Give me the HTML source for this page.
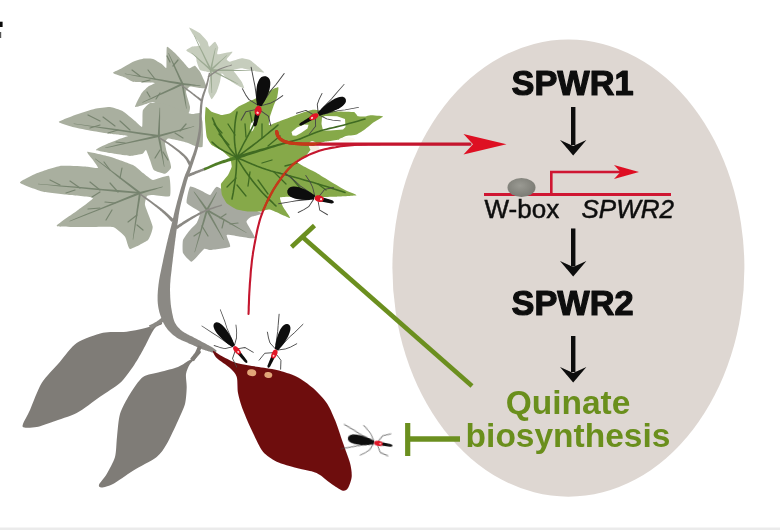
<!DOCTYPE html>
<html><head><meta charset="utf-8">
<style>
html,body{margin:0;padding:0;background:#fff;}
body{width:780px;height:530px;overflow:hidden;position:relative;font-family:"Liberation Sans",sans-serif;}
svg{position:absolute;left:0;top:0;display:block;}
text{font-family:"Liberation Sans",sans-serif;}
</style></head><body>
<svg width="780" height="530" viewBox="0 0 780 530">
<defs>
<filter id="soft" x="-5%" y="-5%" width="110%" height="110%"><feGaussianBlur stdDeviation="0.45"/></filter>
<filter id="soft2" x="-5%" y="-5%" width="110%" height="110%"><feGaussianBlur stdDeviation="0.35"/></filter>
<radialGradient id="ovalg" cx="0.45" cy="0.4" r="0.7"><stop offset="0" stop-color="#9a9a93"/><stop offset="1" stop-color="#75756e"/></radialGradient>
<g id="bug">
  <!-- legs -->
  <g fill="none" stroke="#3a3a3a" stroke-width="0.9" stroke-linecap="round">
    <path d="M15,-2 L10,-9 L1,-14"/><path d="M15,2 L10,9 L1,15"/>
    <path d="M18,-2 L19,-10 L14,-19"/><path d="M18,2 L19,10 L14,19"/>
    <path d="M21,-2 L27,-8 L33,-13"/><path d="M21,2 L27,8 L33,13"/>
  </g>
  <path d="M-15,0 C-14,-6 4,-7 13,-2.2 L15,0 L13,2.2 C4,7 -14,6 -15,0 Z" fill="#0a0a0a"/>
  <path d="M19,-2 L31,-0.8 L32,0.6 L19,2.4 Z" fill="#0a0a0a"/>
  <circle cx="17.5" cy="0" r="3.2" fill="#e0182a"/>
  <circle cx="17.8" cy="0" r="1" fill="#ffd8d8"/>
</g>
</defs>
<rect x="0" y="0" width="780" height="530" fill="#ffffff"/>
<rect x="0" y="527.5" width="780" height="2.5" fill="#ebebeb"/>
<rect x="0" y="21.7" width="2.6" height="5.3" fill="#0a0a0a"/>
<rect x="0" y="32" width="1.2" height="6" fill="#555"/>

<!-- nucleus ellipse -->
<ellipse cx="568.4" cy="268.1" rx="176" ry="228.6" fill="#ded7d2"/>

<g id="plant" filter="url(#soft)">
<path d="M189.2,27.5 C189.7,27.4 198.6,32.2 200.0,33.3 C201.4,34.4 206.8,40.7 207.5,41.7 C208.2,42.7 208.6,46.7 209.2,46.7 C209.8,46.7 214.3,41.6 215.0,41.7 C215.7,41.8 218.1,46.6 218.3,47.5 C218.5,48.4 216.4,53.9 217.5,54.2 C218.6,54.5 231.8,51.3 232.5,51.7 C233.2,52.1 226.9,58.5 226.7,59.2 C226.5,60.0 228.9,61.8 230.0,61.7 C231.1,61.6 240.2,58.4 241.7,58.3 C243.2,58.2 248.8,59.4 250.0,60.0 C251.2,60.6 257.2,65.8 258.3,66.7 C259.4,67.6 264.6,72.2 264.2,72.5 C263.8,72.8 255.0,71.1 253.3,70.8 C251.6,70.5 243.2,68.4 241.7,68.3 C240.2,68.2 233.7,69.5 233.3,70.0 C232.9,70.5 236.1,74.1 236.7,75.0 C237.3,75.9 241.1,80.7 241.7,81.7 C242.3,82.7 244.6,88.1 244.2,88.3 C243.8,88.5 238.0,85.8 236.7,85.0 C235.4,84.2 227.8,79.2 226.7,78.3 C225.6,77.4 222.2,73.0 221.7,73.3 C221.2,73.6 220.4,80.3 220.0,81.7 C219.6,83.1 217.3,90.4 216.7,91.7 C216.1,93.0 212.3,99.2 211.7,99.2 C211.1,99.2 208.5,93.0 208.3,91.7 C208.1,90.4 209.0,83.1 209.2,81.7 C209.4,80.3 211.0,74.0 210.8,73.3 C210.6,72.5 207.5,71.9 206.7,71.7 C205.9,71.5 200.8,70.8 200.0,70.0 C199.2,69.2 197.0,62.7 196.7,61.7 C196.4,60.7 196.6,57.5 195.8,56.7 C195.0,55.9 186.6,51.2 186.3,50.5 C186.0,49.8 190.7,47.1 191.7,46.7 C192.7,46.3 199.5,46.2 200.0,45.8 C200.5,45.4 198.8,42.5 198.3,41.7 C197.8,40.9 194.0,36.1 193.3,35.0 C192.6,33.9 188.7,27.6 189.2,27.5 Z" fill="#c6cdbd" />
<path d="M113.0,73.0 C112.8,72.3 120.2,69.1 121.7,68.3 C123.2,67.5 131.4,62.4 133.0,61.7 C134.6,61.0 141.5,58.9 143.0,58.7 C144.5,58.5 151.6,58.6 153.0,59.0 C154.4,59.4 160.7,63.3 161.7,64.0 C162.7,64.7 165.9,68.4 166.3,68.0 C166.7,67.6 166.4,59.9 166.5,58.3 C166.6,56.7 166.4,47.1 167.0,46.7 C167.6,46.3 173.8,51.9 175.0,53.0 C176.2,54.1 181.9,60.6 183.0,61.7 C184.1,62.8 188.1,68.0 189.0,68.3 C189.9,68.6 194.2,65.5 195.0,65.8 C195.8,66.1 199.3,70.6 200.0,71.7 C200.7,72.8 203.5,78.8 204.0,80.0 C204.5,81.2 207.0,87.4 206.7,88.0 C206.4,88.6 201.3,88.1 200.0,88.0 C198.7,87.9 191.1,86.2 190.0,86.5 C188.9,86.8 186.0,90.5 186.0,92.0 C186.0,93.5 189.8,105.2 190.0,106.7 C190.2,108.2 189.5,111.8 189.0,112.5 C188.5,113.2 184.3,116.0 183.0,116.0 C181.7,116.0 173.7,113.8 172.0,113.0 C170.3,112.2 161.4,106.8 160.0,106.0 C158.6,105.2 154.3,102.1 153.0,102.0 C151.7,101.9 144.3,104.6 143.0,105.0 C141.7,105.4 135.1,107.6 135.0,106.7 C134.9,105.8 140.7,94.5 141.7,93.0 C142.7,91.5 147.0,87.5 148.0,86.7 C149.0,86.0 155.1,83.3 155.0,83.0 C154.9,82.7 148.3,82.6 146.7,82.5 C145.0,82.4 134.6,82.1 133.0,81.7 C131.4,81.3 126.5,78.2 125.0,77.5 C123.5,76.8 113.2,73.7 113.0,73.0 Z" fill="#a9af9f" />
<path d="M58.8,122.0 C59.0,121.1 72.3,116.0 75.0,115.0 C77.7,114.0 92.4,109.4 95.0,108.8 C97.6,108.2 107.9,106.8 110.0,107.0 C112.1,107.2 120.6,110.0 122.5,111.0 C124.4,112.0 133.5,119.8 135.0,121.0 C136.5,122.2 141.4,127.2 142.0,127.0 C142.6,126.8 142.4,119.3 142.5,118.0 C142.6,116.7 142.4,111.1 143.0,110.0 C143.6,108.9 148.3,103.5 150.0,103.0 C151.7,102.5 162.8,103.5 165.0,104.0 C167.2,104.5 178.0,109.2 180.0,110.0 C182.0,110.8 190.2,113.8 191.7,114.0 C193.2,114.2 199.2,112.4 200.0,113.0 C200.8,113.6 202.3,120.0 202.5,121.7 C202.7,123.4 203.0,133.1 203.0,135.0 C203.0,136.9 203.0,145.8 202.5,146.7 C202.0,147.6 197.8,147.0 196.7,146.7 C195.6,146.4 189.3,143.4 188.0,143.0 C186.7,142.6 181.5,141.1 180.0,140.8 C178.5,140.5 169.1,138.3 168.0,138.5 C166.9,138.7 165.1,142.0 165.0,143.0 C164.9,144.0 166.3,150.3 166.7,151.7 C167.1,153.1 169.7,160.5 170.0,161.7 C170.3,162.9 171.4,167.1 171.0,168.0 C170.6,168.9 166.3,173.7 165.0,173.8 C163.7,174.0 154.9,171.0 153.8,170.0 C152.7,169.0 150.6,161.5 150.0,160.0 C149.4,158.5 146.6,150.5 146.0,150.0 C145.4,149.5 143.7,153.4 142.5,153.8 C141.3,154.2 132.1,156.0 130.0,156.0 C127.9,156.0 117.5,154.2 115.0,153.8 C112.5,153.4 96.6,150.8 96.0,150.0 C95.4,149.2 105.7,144.6 107.5,143.8 C109.3,143.0 118.5,139.4 120.0,138.8 C121.5,138.2 128.0,136.3 128.0,136.0 C128.0,135.7 121.3,135.2 120.0,135.0 C118.7,134.8 112.1,134.1 110.0,133.8 C107.9,133.5 95.3,131.5 92.5,131.0 C89.7,130.5 75.0,127.7 72.5,127.0 C70.0,126.3 58.6,122.9 58.8,122.0 Z" fill="#a9af9f" />
<path d="M20.0,182.7 C19.5,181.3 33.7,174.6 36.7,173.3 C39.7,172.0 56.2,166.5 60.0,166.0 C63.8,165.5 83.9,166.5 86.7,166.7 C89.5,166.8 97.5,168.5 98.0,168.0 C98.5,167.5 93.8,161.2 93.0,160.0 C92.2,158.8 86.0,151.9 87.3,151.7 C88.6,151.5 106.6,155.7 110.0,156.7 C113.4,157.7 130.5,163.8 133.0,165.0 C135.5,166.2 141.5,171.9 143.0,173.0 C144.5,174.1 151.1,179.8 153.0,180.0 C154.9,180.2 167.7,174.8 169.0,176.0 C170.3,177.2 171.2,194.6 170.0,196.0 C168.8,197.4 154.7,195.0 153.0,195.0 C151.3,195.0 147.6,195.2 147.0,196.0 C146.4,196.8 144.6,202.7 145.0,205.0 C145.4,207.3 152.5,224.1 152.7,226.7 C152.9,229.3 149.7,238.3 148.0,240.0 C146.3,241.7 131.7,249.2 130.0,249.0 C128.3,248.8 126.3,238.3 125.0,236.7 C123.7,235.0 115.9,227.7 113.0,227.0 C110.1,226.3 90.9,227.1 86.7,227.0 C82.5,226.9 57.5,227.2 56.7,226.0 C56.0,224.8 74.0,213.1 76.7,211.0 C79.4,208.9 93.5,199.2 93.0,198.0 C92.5,196.8 73.7,195.5 70.0,195.0 C66.3,194.5 47.0,192.6 43.3,191.7 C39.5,190.8 20.5,184.1 20.0,182.7 Z" fill="#a9af9f" />
<path d="M190.0,186.7 C191.0,185.7 198.5,189.4 200.0,190.0 C201.5,190.6 208.7,195.2 210.0,195.0 C211.3,194.8 215.2,186.8 216.7,186.7 C218.2,186.6 227.8,192.6 230.0,194.0 C232.2,195.4 243.6,204.5 246.0,206.0 C248.4,207.5 261.6,212.7 262.0,213.5 C262.4,214.3 252.2,216.4 251.0,217.0 C249.8,217.6 246.2,220.4 246.5,222.0 C246.8,223.6 255.5,236.9 255.0,238.0 C254.5,239.1 242.1,236.9 240.0,236.7 C237.9,236.5 227.4,234.2 226.7,235.0 C225.9,235.8 231.3,245.6 230.0,246.7 C228.7,247.8 211.9,249.8 210.0,250.0 C208.1,250.2 205.4,248.1 204.0,249.0 C202.6,249.9 193.3,261.4 191.7,261.7 C190.1,262.0 183.7,254.6 183.0,253.0 C182.3,251.4 182.5,241.7 183.0,240.0 C183.5,238.3 189.0,231.3 190.0,230.0 C191.0,228.7 195.9,224.3 196.7,223.0 C197.4,221.7 200.8,213.5 200.0,212.0 C199.2,210.5 187.4,204.9 186.7,203.0 C185.9,201.1 189.0,187.7 190.0,186.7 Z" fill="#a6a9a0" />
<path d="M211.6,69.6 L210.1,66.6 L207.9,62.2 L205.4,57.2 L203.1,52.6 L200.7,47.9 L198.2,43.0 L196.0,38.6 L194.5,35.6 L194.1,35.8 L195.5,38.9 L197.5,43.4 L199.8,48.4 L202.0,53.1 L204.2,57.8 L206.5,62.8 L208.6,67.3 L210.0,70.4 Z" fill="#9caa92" />
<path d="M211.4,69.3 L209.6,67.8 L207.1,65.7 L204.3,63.2 L201.6,61.0 L198.9,58.7 L196.1,56.3 L193.5,54.2 L191.8,52.7 L191.5,53.0 L193.1,54.6 L195.5,56.9 L198.2,59.5 L200.8,61.9 L203.4,64.3 L206.1,66.8 L208.5,69.1 L210.2,70.7 Z" fill="#9caa92" />
<path d="M210.8,70.9 L214.7,70.9 L220.3,71.0 L226.5,71.0 L232.4,71.1 L238.4,71.1 L244.6,71.1 L250.2,71.1 L254.1,71.1 L254.1,70.7 L250.2,70.5 L244.6,70.3 L238.4,70.0 L232.5,69.8 L226.5,69.6 L220.3,69.4 L214.7,69.2 L210.8,69.1 Z" fill="#9caa92" />
<path d="M210.4,70.8 L212.9,72.0 L216.5,73.8 L220.5,75.7 L224.2,77.6 L228.0,79.4 L232.1,81.4 L235.7,83.1 L238.2,84.3 L238.4,83.9 L235.9,82.5 L232.4,80.6 L228.5,78.5 L224.8,76.5 L221.1,74.5 L217.2,72.4 L213.6,70.5 L211.2,69.2 Z" fill="#9caa92" />
<path d="M209.9,70.0 L210.1,72.1 L210.3,75.0 L210.5,78.3 L210.7,81.5 L211.0,84.6 L211.2,87.9 L211.5,90.8 L211.6,92.9 L212.1,92.9 L212.1,90.8 L212.0,87.9 L212.0,84.5 L211.9,81.4 L211.9,78.3 L211.8,75.0 L211.7,72.0 L211.7,70.0 Z" fill="#9caa92" />
<path d="M211.4,70.7 L212.8,69.3 L214.8,67.4 L217.1,65.2 L219.2,63.2 L221.3,61.1 L223.6,59.0 L225.6,57.0 L227.0,55.6 L226.7,55.3 L225.2,56.6 L223.0,58.4 L220.6,60.4 L218.4,62.3 L216.1,64.2 L213.8,66.3 L211.7,68.1 L210.2,69.3 Z" fill="#9caa92" />
<path d="M211.7,70.2 L212.0,68.2 L212.6,65.3 L213.1,62.1 L213.7,59.1 L214.2,56.1 L214.8,52.9 L215.3,50.0 L215.6,48.0 L215.2,48.0 L214.7,49.9 L214.0,52.7 L213.2,55.9 L212.5,58.9 L211.8,61.9 L211.0,65.0 L210.4,67.9 L209.9,69.8 Z" fill="#9caa92" />
<path d="M182.7,83.0 L177.5,82.1 L170.0,80.9 L161.7,79.5 L153.8,78.2 L145.9,77.0 L137.5,75.6 L130.1,74.4 L124.9,73.6 L124.8,74.1 L130.0,75.1 L137.4,76.6 L145.7,78.1 L153.6,79.6 L161.4,81.1 L169.7,82.7 L177.2,84.0 L182.3,85.0 Z" fill="#77846f" />
<path d="M183.4,83.6 L182.1,80.8 L180.2,76.9 L178.1,72.5 L176.1,68.3 L174.1,64.1 L171.9,59.7 L170.0,55.8 L168.7,53.1 L168.2,53.3 L169.4,56.1 L171.1,60.1 L173.0,64.6 L174.8,68.9 L176.7,73.1 L178.6,77.6 L180.4,81.6 L181.6,84.4 Z" fill="#77846f" />
<path d="M182.1,83.1 L178.5,84.8 L173.4,87.2 L167.6,90.0 L162.2,92.6 L156.8,95.2 L151.0,98.0 L145.9,100.5 L142.3,102.2 L142.6,102.7 L146.2,101.1 L151.4,98.9 L157.3,96.3 L162.8,93.9 L168.3,91.4 L174.1,88.9 L179.3,86.5 L182.9,84.9 Z" fill="#77846f" />
<path d="M182.4,85.0 L184.0,85.1 L186.4,85.3 L189.0,85.4 L191.5,85.6 L193.9,85.7 L196.5,85.8 L198.9,85.9 L200.5,86.0 L200.6,85.5 L199.0,85.3 L196.6,84.9 L194.0,84.5 L191.6,84.2 L189.1,83.8 L186.5,83.5 L184.2,83.2 L182.6,83.0 Z" fill="#77846f" />
<path d="M181.5,84.2 L181.9,86.4 L182.5,89.5 L183.1,93.1 L183.8,96.4 L184.4,99.8 L185.1,103.3 L185.8,106.5 L186.2,108.7 L186.7,108.6 L186.4,106.4 L186.1,103.2 L185.6,99.6 L185.2,96.2 L184.7,92.8 L184.2,89.2 L183.8,86.1 L183.5,83.8 Z" fill="#77846f" />
<path d="M158.9,135.0 L151.3,133.9 L140.3,132.4 L128.0,130.7 L116.3,129.1 L104.6,127.6 L92.3,125.9 L81.3,124.4 L73.7,123.4 L73.6,123.9 L81.2,125.1 L92.2,126.8 L104.5,128.7 L116.1,130.5 L127.7,132.3 L140.0,134.2 L151.0,135.8 L158.7,137.0 Z" fill="#77846f" />
<path d="M158.6,135.0 L153.8,136.1 L146.9,137.7 L139.2,139.5 L131.9,141.2 L124.6,143.0 L116.9,144.8 L110.0,146.5 L105.2,147.6 L105.4,148.1 L110.2,147.2 L117.1,145.7 L124.9,144.1 L132.2,142.6 L139.5,141.1 L147.3,139.5 L154.2,138.0 L159.0,137.0 Z" fill="#77846f" />
<path d="M157.8,136.2 L158.3,138.9 L159.1,142.9 L160.0,147.3 L160.8,151.5 L161.7,155.7 L162.6,160.1 L163.4,164.1 L164.0,166.8 L164.5,166.8 L164.1,164.0 L163.5,160.0 L162.9,155.5 L162.2,151.3 L161.6,147.0 L160.9,142.6 L160.2,138.6 L159.8,135.8 Z" fill="#77846f" />
<path d="M159.1,137.0 L162.2,136.1 L166.8,134.7 L171.9,133.3 L176.7,131.8 L181.5,130.4 L186.6,128.9 L191.1,127.5 L194.2,126.6 L194.1,126.1 L190.9,126.9 L186.3,128.0 L181.2,129.3 L176.3,130.5 L171.4,131.7 L166.3,133.0 L161.7,134.2 L158.5,135.0 Z" fill="#77846f" />
<path d="M159.8,136.0 L159.9,133.5 L159.9,129.9 L160.0,125.8 L160.0,121.9 L160.1,118.1 L160.1,114.0 L160.1,110.4 L160.1,107.8 L159.6,107.8 L159.4,110.4 L159.2,114.0 L158.9,118.0 L158.6,121.9 L158.4,125.7 L158.1,129.8 L157.9,133.4 L157.8,136.0 Z" fill="#77846f" />
<path d="M140.1,192.0 L130.9,191.2 L117.7,190.1 L103.0,188.9 L89.0,187.8 L75.1,186.6 L60.3,185.5 L47.1,184.4 L37.9,183.7 L37.9,184.2 L47.1,185.1 L60.2,186.4 L75.0,187.8 L88.9,189.2 L102.8,190.5 L117.6,191.9 L130.7,193.1 L139.9,194.0 Z" fill="#77846f" />
<path d="M140.6,192.2 L136.6,189.2 L130.7,184.8 L124.2,179.9 L118.0,175.3 L111.8,170.7 L105.2,165.8 L99.4,161.5 L95.3,158.5 L95.0,158.9 L98.9,162.0 L104.7,166.6 L111.1,171.6 L117.1,176.4 L123.2,181.2 L129.6,186.2 L135.4,190.7 L139.4,193.8 Z" fill="#77846f" />
<path d="M139.6,192.1 L133.3,194.6 L124.3,198.3 L114.1,202.5 L104.5,206.4 L95.0,210.4 L84.8,214.6 L75.8,218.3 L69.5,220.9 L69.7,221.4 L76.1,219.0 L85.2,215.4 L95.4,211.5 L105.1,207.7 L114.7,204.0 L124.9,200.0 L134.0,196.4 L140.4,193.9 Z" fill="#77846f" />
<path d="M139.0,192.8 L138.4,197.0 L137.6,203.1 L136.6,209.8 L135.8,216.2 L134.9,222.6 L134.0,229.4 L133.2,235.4 L132.7,239.6 L133.2,239.7 L133.9,235.5 L135.0,229.5 L136.1,222.8 L137.2,216.4 L138.2,210.1 L139.3,203.3 L140.3,197.3 L141.0,193.2 Z" fill="#77846f" />
<path d="M140.3,194.0 L142.3,193.4 L145.2,192.5 L148.5,191.5 L151.6,190.6 L154.7,189.7 L158.0,188.6 L160.9,187.7 L162.9,187.1 L162.8,186.6 L160.7,187.1 L157.8,187.7 L154.4,188.5 L151.3,189.2 L148.1,190.0 L144.8,190.8 L141.8,191.5 L139.7,192.0 Z" fill="#77846f" />
<path d="M207.8,209.4 L206.6,207.8 L204.8,205.4 L202.9,202.8 L201.0,200.3 L199.1,197.9 L197.1,195.3 L195.3,193.0 L194.0,191.4 L193.6,191.7 L194.7,193.4 L196.3,195.8 L198.1,198.6 L199.8,201.2 L201.5,203.8 L203.4,206.5 L205.0,208.9 L206.2,210.6 Z" fill="#77846f" />
<path d="M206.5,210.9 L210.1,212.9 L215.2,215.8 L221.0,219.0 L226.4,222.1 L231.9,225.1 L237.7,228.3 L242.9,231.1 L246.5,233.1 L246.7,232.7 L243.2,230.5 L238.2,227.5 L232.5,224.0 L227.2,220.8 L221.8,217.6 L216.1,214.2 L211.0,211.2 L207.5,209.1 Z" fill="#77846f" />
<path d="M206.0,209.7 L205.0,213.5 L203.5,219.0 L201.8,225.1 L200.2,230.9 L198.6,236.7 L196.9,242.9 L195.5,248.3 L194.4,252.2 L194.9,252.3 L196.1,248.5 L197.8,243.1 L199.7,237.1 L201.5,231.3 L203.3,225.6 L205.2,219.5 L206.8,214.1 L208.0,210.3 Z" fill="#77846f" />
<path d="M207.9,210.5 L208.7,208.9 L209.9,206.6 L211.2,204.0 L212.5,201.5 L213.7,199.1 L215.0,196.5 L216.1,194.1 L216.9,192.5 L216.4,192.3 L215.5,193.8 L214.2,196.0 L212.6,198.5 L211.2,200.9 L209.8,203.2 L208.3,205.7 L207.0,208.0 L206.1,209.5 Z" fill="#77846f" />
<path d="M206.1,210.5 L207.7,213.2 L209.9,217.0 L212.4,221.3 L214.7,225.3 L217.1,229.3 L219.7,233.6 L221.9,237.4 L223.5,240.0 L223.9,239.8 L222.5,237.1 L220.5,233.1 L218.2,228.8 L216.0,224.6 L213.8,220.5 L211.4,216.1 L209.3,212.2 L207.9,209.5 Z" fill="#77846f" />
<path d="M100.0,121.0 L88.0,115.0" fill="none" stroke="#77846f" stroke-width="1.2" stroke-linecap="round" stroke-linejoin="round" />
<path d="M115.0,126.0 L103.0,117.0" fill="none" stroke="#77846f" stroke-width="1.2" stroke-linecap="round" stroke-linejoin="round" />
<path d="M130.0,130.0 L120.0,121.0" fill="none" stroke="#77846f" stroke-width="1.2" stroke-linecap="round" stroke-linejoin="round" />
<path d="M100.0,125.0 L90.0,128.0" fill="none" stroke="#77846f" stroke-width="1.2" stroke-linecap="round" stroke-linejoin="round" />
<path d="M118.0,130.0 L108.0,133.0" fill="none" stroke="#77846f" stroke-width="1.2" stroke-linecap="round" stroke-linejoin="round" />
<path d="M125.0,143.0 L116.0,142.0" fill="none" stroke="#77846f" stroke-width="1.2" stroke-linecap="round" stroke-linejoin="round" />
<path d="M160.0,150.0 L155.0,158.0" fill="none" stroke="#77846f" stroke-width="1.2" stroke-linecap="round" stroke-linejoin="round" />
<path d="M163.0,152.0 L168.0,160.0" fill="none" stroke="#77846f" stroke-width="1.2" stroke-linecap="round" stroke-linejoin="round" />
<path d="M180.0,131.0 L186.0,124.0" fill="none" stroke="#77846f" stroke-width="1.2" stroke-linecap="round" stroke-linejoin="round" />
<path d="M175.0,133.0 L183.0,138.0" fill="none" stroke="#77846f" stroke-width="1.2" stroke-linecap="round" stroke-linejoin="round" />
<path d="M140.0,76.0 L132.0,70.0" fill="none" stroke="#77846f" stroke-width="1.2" stroke-linecap="round" stroke-linejoin="round" />
<path d="M155.0,79.0 L148.0,70.0" fill="none" stroke="#77846f" stroke-width="1.2" stroke-linecap="round" stroke-linejoin="round" />
<path d="M150.0,80.0 L142.0,82.0" fill="none" stroke="#77846f" stroke-width="1.2" stroke-linecap="round" stroke-linejoin="round" />
<path d="M170.0,62.0 L167.0,56.0" fill="none" stroke="#77846f" stroke-width="1.2" stroke-linecap="round" stroke-linejoin="round" />
<path d="M173.0,66.0 L178.0,60.0" fill="none" stroke="#77846f" stroke-width="1.2" stroke-linecap="round" stroke-linejoin="round" />
<path d="M150.0,97.0 L147.0,92.0" fill="none" stroke="#77846f" stroke-width="1.2" stroke-linecap="round" stroke-linejoin="round" />
<path d="M160.0,93.0 L156.0,99.0" fill="none" stroke="#77846f" stroke-width="1.2" stroke-linecap="round" stroke-linejoin="round" />
<path d="M60.0,185.0 L50.0,180.0" fill="none" stroke="#77846f" stroke-width="1.2" stroke-linecap="round" stroke-linejoin="round" />
<path d="M80.0,188.0 L70.0,181.0" fill="none" stroke="#77846f" stroke-width="1.2" stroke-linecap="round" stroke-linejoin="round" />
<path d="M100.0,190.0 L90.0,182.0" fill="none" stroke="#77846f" stroke-width="1.2" stroke-linecap="round" stroke-linejoin="round" />
<path d="M118.0,192.0 L110.0,183.0" fill="none" stroke="#77846f" stroke-width="1.2" stroke-linecap="round" stroke-linejoin="round" />
<path d="M75.0,190.0 L66.0,193.0" fill="none" stroke="#77846f" stroke-width="1.2" stroke-linecap="round" stroke-linejoin="round" />
<path d="M100.0,192.0 L92.0,197.0" fill="none" stroke="#77846f" stroke-width="1.2" stroke-linecap="round" stroke-linejoin="round" />
<path d="M100.0,208.0 L88.0,209.0" fill="none" stroke="#77846f" stroke-width="1.2" stroke-linecap="round" stroke-linejoin="round" />
<path d="M115.0,203.0 L105.0,202.0" fill="none" stroke="#77846f" stroke-width="1.2" stroke-linecap="round" stroke-linejoin="round" />
<path d="M112.0,210.0 L106.0,220.0" fill="none" stroke="#77846f" stroke-width="1.2" stroke-linecap="round" stroke-linejoin="round" />
<path d="M137.0,215.0 L128.0,222.0" fill="none" stroke="#77846f" stroke-width="1.2" stroke-linecap="round" stroke-linejoin="round" />
<path d="M137.0,225.0 L143.0,230.0" fill="none" stroke="#77846f" stroke-width="1.2" stroke-linecap="round" stroke-linejoin="round" />
<path d="M110.0,170.0 L104.0,162.0" fill="none" stroke="#77846f" stroke-width="1.2" stroke-linecap="round" stroke-linejoin="round" />
<path d="M120.0,178.0 L122.0,168.0" fill="none" stroke="#77846f" stroke-width="1.2" stroke-linecap="round" stroke-linejoin="round" />
<path d="M220.0,218.0 L226.0,214.0" fill="none" stroke="#77846f" stroke-width="1.2" stroke-linecap="round" stroke-linejoin="round" />
<path d="M230.0,224.0 L238.0,223.0" fill="none" stroke="#77846f" stroke-width="1.2" stroke-linecap="round" stroke-linejoin="round" />
<path d="M224.0,220.0 L222.0,228.0" fill="none" stroke="#77846f" stroke-width="1.2" stroke-linecap="round" stroke-linejoin="round" />
<path d="M200.0,232.0 L194.0,236.0" fill="none" stroke="#77846f" stroke-width="1.2" stroke-linecap="round" stroke-linejoin="round" />
<path d="M202.0,226.0 L208.0,236.0" fill="none" stroke="#77846f" stroke-width="1.2" stroke-linecap="round" stroke-linejoin="round" />
<path d="M160.0,321.0 C158.4,321.4 154.4,325.3 150.0,326.7 C145.6,328.1 133.0,330.9 126.7,331.7 C120.4,332.5 109.7,331.2 103.0,332.7 C96.3,334.2 82.4,339.1 76.7,343.0 C71.0,346.9 64.7,356.4 60.0,361.7 C55.3,367.0 45.7,376.6 41.7,383.0 C37.7,389.4 32.5,404.5 30.0,410.0 C27.5,415.5 23.8,421.7 23.0,424.0 C22.2,426.3 22.2,427.1 24.0,427.5 C25.8,427.9 32.8,427.8 36.7,427.0 C40.6,426.2 47.7,423.6 53.0,421.7 C58.3,419.8 70.4,416.3 76.7,413.0 C83.0,409.7 94.2,400.7 100.0,396.7 C105.8,392.7 115.6,387.0 120.0,383.0 C124.4,379.0 129.9,371.1 133.0,366.7 C136.1,362.3 140.5,354.5 143.0,350.0 C145.5,345.5 150.0,336.1 151.7,333.0 C153.4,329.9 154.6,328.2 156.0,327.0 C157.4,325.8 161.5,324.8 162.0,324.0 C162.5,323.2 161.6,320.6 160.0,321.0 Z" fill="#7f7b77" />
<path d="M198.0,351.0 C196.9,351.8 194.3,356.7 193.0,358.0 C191.7,359.3 190.0,359.8 188.0,361.0 C186.0,362.2 181.7,365.5 178.0,367.0 C174.3,368.5 164.7,370.7 160.0,372.0 C155.3,373.3 147.0,374.1 143.0,377.0 C139.0,379.9 133.1,389.1 130.0,394.0 C126.9,398.9 121.7,408.3 120.0,414.0 C118.3,419.7 117.7,431.3 117.0,437.0 C116.3,442.7 116.4,452.1 115.0,457.0 C113.6,461.9 108.8,470.3 106.7,474.0 C104.6,477.7 99.7,482.9 99.0,484.7 C98.3,486.5 99.8,487.6 101.7,487.5 C103.6,487.4 108.8,486.2 113.0,484.0 C117.2,481.8 127.2,474.3 133.0,470.7 C138.8,467.1 152.2,460.6 156.7,457.0 C161.2,453.4 163.9,448.8 166.7,444.0 C169.5,439.2 175.6,426.0 178.0,420.7 C180.4,415.4 183.8,408.5 185.0,404.0 C186.2,399.5 186.6,391.0 186.7,387.0 C186.8,383.0 185.6,377.1 186.0,374.0 C186.4,370.9 188.5,366.3 190.0,364.0 C191.5,361.7 195.5,358.6 197.0,357.0 C198.5,355.4 200.9,352.8 201.0,352.0 C201.1,351.2 199.1,350.2 198.0,351.0 Z" fill="#7f7b77" />
<path d="M208.8,72.9 L208.7,73.5 L208.5,74.3 L208.3,75.2 L208.1,76.2 L207.8,77.3 L207.5,78.5 L207.2,79.8 L206.9,81.1 L206.5,82.4 L206.1,83.8 L205.7,85.1 L205.2,86.6 L204.7,88.2 L204.1,89.8 L203.5,91.4 L202.9,93.1 L202.3,94.8 L201.8,96.5 L201.3,98.2 L200.9,99.8 L200.6,101.4 L200.4,102.9 L200.2,104.4 L200.0,106.0 L199.9,107.5 L199.8,109.0 L199.7,110.5 L199.6,112.0 L199.5,113.4 L199.4,114.9 L199.3,116.4 L199.3,117.9 L199.2,119.4 L199.2,120.9 L199.2,122.4 L199.1,123.8 L199.1,125.3 L199.0,126.8 L198.9,128.3 L198.7,129.8 L198.5,131.5 L198.2,133.1 L197.9,134.8 L197.6,136.6 L197.2,138.4 L196.9,140.1 L196.5,141.8 L196.1,143.5 L195.7,145.1 L195.3,146.6 L194.9,148.1 L194.5,149.5 L194.1,150.8 L193.6,152.2 L193.2,153.4 L192.7,154.7 L192.3,155.9 L191.8,157.1 L191.4,158.3 L191.0,159.5 L190.6,160.6 L190.2,161.6 L189.9,162.7 L189.5,163.6 L189.2,164.6 L188.8,165.5 L188.5,166.4 L188.1,167.4 L187.7,168.4 L187.4,169.4 L187.0,170.4 L186.6,171.2 L186.3,172.1 L185.9,172.9 L185.5,173.8 L185.1,174.8 L184.7,175.9 L184.2,177.2 L183.7,178.7 L183.2,180.5 L182.6,182.5 L181.9,184.9 L181.1,187.5 L180.3,190.3 L179.5,193.2 L178.7,196.1 L177.9,199.0 L177.1,201.7 L176.5,204.3 L175.9,206.5 L175.4,208.4 L174.9,210.2 L174.6,211.7 L174.2,213.2 L173.9,214.6 L173.6,215.9 L173.3,217.2 L173.0,218.5 L172.7,219.9 L172.3,221.5 L171.9,223.1 L171.5,224.8 L171.1,226.5 L170.6,228.3 L170.1,230.1 L169.7,231.9 L169.2,233.7 L168.7,235.6 L168.3,237.4 L167.8,239.3 L167.4,241.2 L166.9,243.1 L166.5,245.0 L166.0,247.0 L165.6,249.0 L165.1,250.9 L164.7,253.0 L164.2,255.0 L163.8,257.1 L163.3,259.2 L162.9,261.4 L162.4,263.7 L161.9,266.0 L161.4,268.4 L160.9,270.9 L160.4,273.3 L159.9,275.7 L159.5,278.0 L159.1,280.3 L158.8,282.4 L158.5,284.5 L158.3,286.4 L158.1,288.3 L157.9,290.2 L157.8,292.0 L157.7,293.7 L157.6,295.4 L157.6,297.1 L157.6,298.7 L157.6,300.3 L157.7,301.9 L157.8,303.5 L158.0,304.9 L158.2,306.4 L158.4,307.8 L158.7,309.2 L159.0,310.5 L159.3,311.9 L159.7,313.2 L160.1,314.5 L160.5,315.8 L161.0,317.1 L161.5,318.4 L162.0,319.8 L162.6,321.1 L163.2,322.4 L163.9,323.8 L164.6,325.1 L165.4,326.4 L166.2,327.6 L167.1,328.8 L168.0,329.9 L169.0,331.0 L170.0,332.1 L171.0,333.0 L172.0,334.0 L173.1,334.9 L174.2,335.8 L175.3,336.6 L176.5,337.4 L177.7,338.2 L179.0,338.9 L180.2,339.6 L181.5,340.2 L182.8,340.8 L184.0,341.3 L185.3,341.8 L186.5,342.3 L187.7,342.8 L188.8,343.4 L190.1,343.9 L191.4,344.5 L192.7,345.1 L194.1,345.7 L195.5,346.3 L196.8,346.9 L198.1,347.5 L199.3,348.0 L200.5,348.5 L201.6,349.0 L202.7,349.4 L203.7,349.7 L204.6,350.1 L205.5,350.4 L206.3,350.6 L207.1,350.9 L207.9,351.1 L208.6,351.4 L209.3,351.6 L210.0,351.8 L210.6,352.0 L211.3,352.2 L211.9,352.4 L212.5,352.5 L213.1,352.7 L213.7,352.9 L214.2,353.0 L214.6,353.1 L215.0,353.2 L215.3,353.3 L216.7,350.7 L216.4,350.5 L216.1,350.2 L215.8,349.9 L215.3,349.6 L214.9,349.2 L214.4,348.8 L213.9,348.4 L213.3,348.0 L212.7,347.6 L212.0,347.2 L211.4,346.8 L210.7,346.5 L210.0,346.1 L209.3,345.7 L208.6,345.3 L207.8,344.9 L207.0,344.5 L206.2,344.0 L205.3,343.6 L204.4,343.0 L203.3,342.5 L202.2,341.9 L201.0,341.3 L199.8,340.6 L198.5,340.0 L197.2,339.3 L195.9,338.6 L194.6,338.0 L193.4,337.3 L192.2,336.6 L190.9,336.0 L189.7,335.4 L188.5,334.8 L187.3,334.2 L186.2,333.6 L185.2,333.0 L184.2,332.4 L183.2,331.8 L182.3,331.2 L181.5,330.6 L180.7,329.9 L179.9,329.1 L179.1,328.3 L178.3,327.5 L177.6,326.7 L177.0,325.9 L176.3,325.0 L175.8,324.1 L175.2,323.3 L174.8,322.4 L174.4,321.5 L174.0,320.5 L173.7,319.5 L173.4,318.5 L173.1,317.4 L172.9,316.3 L172.6,315.1 L172.4,313.9 L172.1,312.7 L171.9,311.5 L171.7,310.3 L171.5,309.2 L171.3,308.1 L171.1,306.9 L171.0,305.8 L170.8,304.7 L170.7,303.5 L170.6,302.3 L170.5,301.0 L170.4,299.7 L170.3,298.3 L170.2,296.8 L170.2,295.4 L170.1,293.8 L170.1,292.3 L170.0,290.7 L170.0,289.0 L170.1,287.3 L170.1,285.5 L170.2,283.6 L170.4,281.6 L170.5,279.5 L170.7,277.2 L171.0,274.9 L171.3,272.5 L171.6,270.1 L171.8,267.7 L172.1,265.3 L172.4,263.0 L172.7,260.8 L172.9,258.6 L173.2,256.5 L173.4,254.5 L173.7,252.4 L173.9,250.4 L174.2,248.4 L174.4,246.5 L174.7,244.5 L174.9,242.6 L175.2,240.7 L175.4,238.8 L175.7,236.9 L175.9,235.0 L176.2,233.1 L176.4,231.3 L176.7,229.5 L176.9,227.7 L177.2,225.9 L177.4,224.2 L177.7,222.5 L177.9,220.9 L178.1,219.4 L178.3,218.1 L178.5,216.7 L178.6,215.4 L178.9,214.1 L179.1,212.7 L179.4,211.1 L179.7,209.4 L180.1,207.5 L180.6,205.3 L181.2,202.8 L181.9,200.1 L182.6,197.2 L183.4,194.3 L184.2,191.4 L184.9,188.6 L185.6,185.9 L186.3,183.6 L186.8,181.5 L187.3,179.9 L187.8,178.4 L188.2,177.2 L188.6,176.1 L188.9,175.2 L189.2,174.3 L189.6,173.4 L189.9,172.6 L190.3,171.6 L190.6,170.6 L191.0,169.6 L191.3,168.6 L191.7,167.6 L192.0,166.6 L192.3,165.7 L192.6,164.7 L193.0,163.7 L193.3,162.7 L193.7,161.6 L194.0,160.5 L194.4,159.4 L194.8,158.2 L195.2,157.0 L195.6,155.7 L196.1,154.4 L196.5,153.1 L196.9,151.7 L197.3,150.3 L197.7,148.9 L198.1,147.4 L198.5,145.8 L198.8,144.1 L199.2,142.4 L199.6,140.7 L199.9,138.9 L200.3,137.1 L200.6,135.3 L200.8,133.5 L201.1,131.8 L201.3,130.2 L201.4,128.5 L201.6,126.9 L201.6,125.4 L201.7,123.9 L201.7,122.4 L201.7,120.9 L201.7,119.5 L201.7,118.0 L201.7,116.5 L201.8,115.1 L201.9,113.6 L202.0,112.1 L202.0,110.6 L202.1,109.1 L202.2,107.6 L202.3,106.2 L202.4,104.7 L202.6,103.2 L202.8,101.7 L203.1,100.2 L203.4,98.7 L203.8,97.1 L204.3,95.4 L204.8,93.8 L205.4,92.1 L205.9,90.4 L206.5,88.8 L207.0,87.2 L207.5,85.7 L207.9,84.2 L208.2,82.9 L208.5,81.5 L208.8,80.2 L209.1,78.9 L209.3,77.7 L209.5,76.5 L209.7,75.5 L209.9,74.6 L210.1,73.8 L210.2,73.1 Z" fill="#8b8984" />
<path d="M180.6,85.5 L181.4,86.0 L182.3,86.8 L183.4,87.6 L184.7,88.6 L186.1,89.6 L187.4,90.7 L188.8,91.8 L190.2,92.8 L191.4,93.8 L192.5,94.6 L193.5,95.4 L194.5,96.2 L195.5,97.0 L196.5,97.8 L197.4,98.5 L198.3,99.2 L199.1,99.9 L199.8,100.4 L200.4,100.9 L200.9,101.3 L202.1,99.7 L201.6,99.3 L201.0,98.9 L200.3,98.3 L199.4,97.7 L198.6,97.1 L197.6,96.4 L196.6,95.7 L195.6,94.9 L194.5,94.1 L193.5,93.4 L192.4,92.5 L191.1,91.6 L189.7,90.6 L188.3,89.6 L186.9,88.5 L185.5,87.5 L184.2,86.6 L183.1,85.8 L182.1,85.1 L181.4,84.5 Z" fill="#8b8984" />
<path d="M231.9,64.6 L231.2,64.8 L230.3,65.1 L229.2,65.4 L227.9,65.7 L226.6,66.0 L225.2,66.4 L223.8,66.9 L222.4,67.4 L221.0,67.9 L219.7,68.5 L218.4,69.1 L217.1,69.9 L215.7,70.8 L214.2,71.7 L212.8,72.7 L211.5,73.6 L210.3,74.5 L209.2,75.2 L208.3,75.9 L207.5,76.3 L208.5,77.7 L209.2,77.1 L210.1,76.5 L211.2,75.7 L212.4,74.8 L213.7,73.8 L215.0,72.9 L216.4,71.9 L217.7,71.0 L219.1,70.2 L220.3,69.5 L221.5,69.0 L222.8,68.4 L224.2,67.9 L225.5,67.4 L226.9,67.0 L228.2,66.6 L229.4,66.2 L230.5,65.9 L231.4,65.6 L232.1,65.4 Z" fill="#8b8984" />
<path d="M158.6,138.1 L159.5,138.6 L160.5,139.4 L161.8,140.2 L163.3,141.2 L164.8,142.2 L166.4,143.3 L168.0,144.3 L169.6,145.4 L171.1,146.5 L172.4,147.5 L173.7,148.5 L175.0,149.5 L176.3,150.6 L177.6,151.6 L178.9,152.6 L180.1,153.7 L181.2,154.7 L182.3,155.7 L183.3,156.6 L184.1,157.5 L184.9,158.4 L185.5,159.3 L186.1,160.1 L186.6,161.0 L187.1,161.9 L187.5,162.7 L187.9,163.4 L188.2,164.1 L188.5,164.7 L188.8,165.2 L191.2,163.8 L190.9,163.4 L190.7,162.8 L190.3,162.2 L189.9,161.4 L189.4,160.6 L188.8,159.7 L188.2,158.7 L187.5,157.8 L186.7,156.8 L185.9,155.9 L184.9,154.9 L183.9,154.0 L182.7,153.0 L181.5,152.0 L180.3,150.9 L179.0,149.9 L177.6,148.9 L176.3,147.9 L174.9,146.9 L173.6,145.9 L172.2,144.9 L170.6,143.9 L169.0,142.8 L167.3,141.8 L165.7,140.8 L164.1,139.8 L162.6,138.9 L161.3,138.1 L160.2,137.4 L159.4,136.9 Z" fill="#8b8984" />
<path d="M139.6,194.6 L140.5,195.2 L141.7,196.1 L143.1,197.2 L144.7,198.4 L146.4,199.7 L148.1,201.0 L149.9,202.3 L151.5,203.6 L153.1,204.7 L154.4,205.8 L155.6,206.7 L156.7,207.6 L157.8,208.5 L158.8,209.3 L159.7,210.1 L160.6,210.9 L161.5,211.6 L162.4,212.4 L163.3,213.2 L164.1,214.0 L165.0,214.8 L165.9,215.7 L166.8,216.6 L167.7,217.6 L168.6,218.5 L169.4,219.4 L170.1,220.2 L170.8,221.0 L171.4,221.6 L171.9,222.1 L174.1,219.9 L173.7,219.4 L173.1,218.8 L172.4,218.1 L171.6,217.3 L170.7,216.5 L169.7,215.6 L168.8,214.7 L167.8,213.7 L166.8,212.9 L165.9,212.0 L164.9,211.3 L164.0,210.5 L163.1,209.8 L162.1,209.0 L161.2,208.3 L160.1,207.5 L159.1,206.8 L158.0,206.0 L156.8,205.1 L155.6,204.2 L154.2,203.2 L152.6,202.1 L150.9,200.8 L149.2,199.6 L147.4,198.3 L145.6,197.1 L144.0,196.0 L142.6,194.9 L141.3,194.1 L140.4,193.4 Z" fill="#8b8984" />
<path d="M221.8,204.4 L220.8,204.8 L219.5,205.2 L217.9,205.7 L216.1,206.2 L214.2,206.8 L212.2,207.4 L210.2,208.1 L208.2,208.8 L206.4,209.5 L204.6,210.2 L203.0,210.9 L201.4,211.6 L199.9,212.3 L198.3,213.1 L196.8,213.9 L195.3,214.7 L193.8,215.5 L192.3,216.3 L190.9,217.1 L189.4,218.0 L187.9,218.8 L186.2,219.8 L184.6,220.8 L182.9,221.8 L181.3,222.9 L179.8,223.8 L178.3,224.7 L177.1,225.5 L176.0,226.2 L175.2,226.7 L176.8,229.3 L177.6,228.7 L178.7,228.0 L179.9,227.1 L181.3,226.2 L182.8,225.1 L184.4,224.1 L186.0,223.0 L187.6,222.0 L189.1,221.0 L190.6,220.0 L192.0,219.2 L193.5,218.3 L194.9,217.4 L196.4,216.6 L197.8,215.7 L199.3,214.9 L200.8,214.1 L202.3,213.3 L203.8,212.6 L205.4,211.8 L207.0,211.1 L208.8,210.4 L210.8,209.6 L212.7,208.9 L214.7,208.2 L216.5,207.5 L218.3,206.9 L219.9,206.4 L221.2,205.9 L222.2,205.6 Z" fill="#8b8984" />
<path d="M188.5,176.9 L189.1,176.7 L189.8,176.4 L190.6,176.1 L191.5,175.7 L192.4,175.3 L193.5,174.9 L194.5,174.4 L195.5,174.0 L196.5,173.6 L197.5,173.2 L198.4,172.8 L199.4,172.4 L200.4,172.0 L201.5,171.6 L202.5,171.2 L203.5,170.8 L204.4,170.4 L205.2,170.1 L205.9,169.8 L206.4,169.6 L205.6,167.4 L205.0,167.6 L204.3,167.8 L203.5,168.2 L202.6,168.5 L201.6,168.9 L200.6,169.3 L199.5,169.7 L198.5,170.1 L197.5,170.4 L196.5,170.8 L195.6,171.1 L194.6,171.5 L193.5,171.9 L192.5,172.3 L191.4,172.7 L190.4,173.0 L189.5,173.4 L188.7,173.7 L188.0,173.9 L187.5,174.1 Z" fill="#8b8984" />
<path d="M163.7,316.2 L163.2,316.5 L162.6,317.0 L161.9,317.5 L161.1,318.2 L160.3,318.8 L159.4,319.5 L158.5,320.2 L157.6,320.8 L156.7,321.4 L156.0,321.9 L155.2,322.3 L154.4,322.8 L153.6,323.2 L152.8,323.7 L152.0,324.1 L151.2,324.4 L150.5,324.8 L149.9,325.1 L149.3,325.3 L148.9,325.5 L151.1,329.5 L151.5,329.2 L152.0,328.9 L152.6,328.5 L153.3,328.1 L154.0,327.6 L154.8,327.1 L155.6,326.6 L156.4,326.1 L157.2,325.6 L158.0,325.1 L158.8,324.6 L159.7,324.0 L160.7,323.4 L161.7,322.8 L162.6,322.2 L163.5,321.6 L164.4,321.0 L165.2,320.6 L165.8,320.2 L166.3,319.8 Z" fill="#8b8984" />
<path d="M198.1,345.2 L198.0,345.7 L197.8,346.2 L197.5,346.9 L197.3,347.6 L197.0,348.3 L196.7,349.1 L196.3,349.9 L196.0,350.6 L195.6,351.4 L195.3,352.0 L194.9,352.7 L194.4,353.4 L193.8,354.1 L193.2,354.9 L192.6,355.7 L192.0,356.4 L191.5,357.1 L191.0,357.7 L190.5,358.2 L190.2,358.7 L193.8,361.3 L194.1,360.9 L194.5,360.4 L194.9,359.7 L195.5,359.0 L196.0,358.2 L196.6,357.4 L197.2,356.5 L197.7,355.6 L198.3,354.8 L198.7,354.0 L199.2,353.2 L199.6,352.3 L200.0,351.5 L200.3,350.6 L200.7,349.8 L201.0,349.0 L201.2,348.3 L201.5,347.7 L201.7,347.2 L201.9,346.8 Z" fill="#7f7b77" />
<path d="M205.8,106.7 C206.2,106.1 210.6,111.1 211.7,111.7 C212.8,112.3 220.5,114.9 221.7,115.0 C222.9,115.1 228.9,113.9 230.0,113.3 C231.1,112.7 237.1,107.5 238.3,106.7 C239.5,105.9 247.0,102.3 248.3,101.7 C249.6,101.1 256.6,98.2 258.0,97.5 C259.4,96.8 268.6,91.2 270.0,90.5 C271.4,89.8 277.8,86.9 278.3,87.3 C278.8,87.7 277.6,95.4 277.3,96.7 C277.0,98.0 273.8,105.4 273.3,106.7 C272.8,108.0 270.3,115.5 270.0,116.7 C269.7,117.9 268.4,124.7 269.0,125.0 C269.6,125.3 276.8,122.3 278.3,121.7 C279.8,121.1 290.1,117.3 291.7,116.7 C293.3,116.1 300.3,113.5 301.7,113.0 C303.1,112.5 311.2,109.9 312.6,109.7 C314.0,109.5 320.3,110.4 322.0,110.5 C323.7,110.6 335.7,111.3 337.8,111.4 C339.9,111.5 352.7,111.7 354.0,112.0 C355.3,112.3 357.1,115.9 357.9,116.2 C358.7,116.5 364.6,116.5 365.4,116.4 C366.2,116.3 369.2,115.2 370.4,115.2 C371.6,115.2 382.8,115.9 383.0,116.4 C383.2,116.9 374.2,121.9 373.0,122.7 C371.8,123.5 366.5,128.2 365.4,129.0 C364.3,129.8 357.9,134.1 356.6,134.6 C355.3,135.1 346.4,135.9 345.3,136.2 C344.2,136.5 340.5,139.2 339.5,139.5 C338.5,139.8 331.1,140.8 330.0,141.0 C328.9,141.2 324.1,141.7 323.0,142.0 C321.9,142.3 315.2,145.0 314.0,146.0 C312.8,147.0 306.2,155.7 305.0,156.7 C303.8,157.7 296.1,160.4 296.0,161.0 C295.9,161.6 301.7,165.3 303.0,166.0 C304.3,166.7 313.3,171.1 315.0,172.0 C316.7,172.9 326.0,178.8 328.0,180.0 C330.0,181.2 343.1,189.0 345.0,190.0 C346.9,191.0 357.3,194.9 356.7,195.3 C356.1,195.7 339.8,196.6 336.7,196.7 C333.6,196.8 313.1,197.0 310.0,197.0 C306.9,197.0 292.0,196.7 290.0,196.7 C288.0,196.7 280.5,196.8 280.0,197.5 C279.5,198.2 282.3,205.3 283.0,206.7 C283.7,208.1 290.9,217.8 290.0,218.0 C289.1,218.2 272.0,209.9 270.0,209.5 C268.0,209.1 261.4,211.4 260.0,211.5 C258.6,211.6 250.0,211.6 248.5,211.5 C247.0,211.4 238.4,210.0 237.0,209.5 C235.6,209.0 228.0,204.5 227.0,203.5 C226.0,202.5 222.4,196.3 222.0,195.0 C221.6,193.7 220.6,185.3 221.0,184.0 C221.4,182.7 227.3,176.2 228.0,175.0 C228.7,173.8 231.6,167.8 231.7,166.7 C231.8,165.6 230.7,159.1 230.0,158.0 C229.3,156.9 222.9,151.4 221.7,150.5 C220.5,149.6 212.7,145.9 211.7,145.0 C210.7,144.1 207.1,138.4 206.7,136.7 C206.3,135.0 205.1,122.0 205.0,120.0 C204.9,118.0 205.4,107.3 205.8,106.7 Z" fill="#86a94a" />
<path d="M292.5,135.6 L291.5,132.0 L297.0,127.5 L304.0,124.5 L308.5,124.8 L307.5,128.5 L301.0,133.0 L296.0,135.8 Z" fill="#fff" />
<path d="M322.0,117.5 L325.0,116.0 L337.0,116.2 L345.0,119.0 L345.5,127.0 L343.0,129.5 L330.0,130.5 L323.0,130.5 L321.5,124.0 Z" fill="#fff" />
<ellipse cx="252.5" cy="126" rx="2.2" ry="5.5" transform="rotate(15 252.5 126)" fill="#fff"/>
<ellipse cx="314" cy="147" rx="4.5" ry="6.5" transform="rotate(-35 314 147)" fill="#f6efe2"/>
<ellipse cx="347" cy="139.5" rx="8" ry="2.2" fill="#fbf8f0"/>
<path d="M204.5,170.6 L205.3,170.2 L206.3,169.8 L207.5,169.3 L208.9,168.7 L210.4,168.0 L211.9,167.4 L213.5,166.7 L215.2,166.0 L216.8,165.4 L218.5,164.8 L220.2,164.2 L222.2,163.6 L224.3,162.9 L226.5,162.3 L228.7,161.6 L230.8,161.0 L232.8,160.4 L234.6,159.9 L236.1,159.5 L237.2,159.1 L236.2,155.9 L235.1,156.3 L233.6,156.7 L231.8,157.3 L229.9,157.9 L227.8,158.6 L225.6,159.4 L223.4,160.1 L221.3,160.8 L219.3,161.5 L217.5,162.2 L215.8,162.8 L214.2,163.5 L212.5,164.3 L210.9,165.0 L209.3,165.7 L207.8,166.4 L206.5,167.0 L205.3,167.6 L204.3,168.0 L203.5,168.4 Z" fill="#4f7d28" />
<path d="M237.2,159.1 L238.5,158.7 L240.1,158.2 L242.0,157.6 L244.1,156.9 L246.4,156.1 L248.8,155.3 L251.3,154.5 L253.8,153.7 L256.1,153.0 L258.4,152.2 L260.5,151.6 L262.7,150.9 L265.0,150.2 L267.2,149.5 L269.4,148.8 L271.6,148.1 L273.8,147.4 L276.0,146.7 L278.2,146.1 L280.3,145.5 L282.4,144.8 L284.7,144.2 L287.0,143.5 L289.3,142.8 L291.6,142.2 L293.8,141.6 L295.7,141.0 L297.5,140.5 L299.0,140.1 L300.2,139.7 L299.8,138.3 L298.6,138.6 L297.1,139.0 L295.3,139.4 L293.3,140.0 L291.1,140.5 L288.9,141.1 L286.5,141.7 L284.2,142.3 L281.9,142.9 L279.7,143.5 L277.6,144.1 L275.4,144.7 L273.2,145.3 L271.0,146.0 L268.8,146.6 L266.5,147.2 L264.3,147.9 L262.0,148.5 L259.8,149.1 L257.6,149.8 L255.4,150.4 L253.0,151.1 L250.5,151.8 L248.0,152.5 L245.5,153.2 L243.2,153.9 L241.0,154.5 L239.1,155.0 L237.5,155.5 L236.2,155.9 Z" fill="#3f6b22" />
<path d="M236.7,157.5 L235.5,155.9 L233.9,153.8 L231.9,151.2 L229.8,148.4 L227.8,145.6 L226.0,143.0 L224.3,140.5 L222.7,137.9 L221.1,135.2 L219.6,132.6 L218.2,130.2 L217.0,128.0 L215.9,125.9 L215.0,123.9 L214.2,122.1 L213.5,120.4 L212.9,119.0 L212.5,118.0" fill="none" stroke="#3f6b22" stroke-width="1.6" stroke-linecap="round" stroke-linejoin="round" />
<path d="M236.7,157.5 L236.4,155.6 L236.0,152.9 L235.6,149.8 L235.1,146.4 L234.7,143.0 L234.5,140.0 L234.4,137.2 L234.4,134.4 L234.5,131.7 L234.6,129.0 L234.8,126.4 L235.0,124.0 L235.3,121.6 L235.6,119.3 L236.0,117.0 L236.4,115.0 L236.8,113.3 L237.0,112.0" fill="none" stroke="#3f6b22" stroke-width="1.6" stroke-linecap="round" stroke-linejoin="round" />
<path d="M236.7,157.5 L237.5,155.9 L238.6,153.7 L239.9,151.1 L241.3,148.3 L242.7,145.5 L244.0,143.0 L245.2,140.8 L246.4,138.6 L247.5,136.5 L248.7,134.4 L249.8,132.2 L251.0,130.0 L252.2,127.6 L253.6,124.9 L254.9,122.2 L256.2,119.7 L257.2,117.5 L258.0,116.0" fill="none" stroke="#3f6b22" stroke-width="1.6" stroke-linecap="round" stroke-linejoin="round" />
<path d="M236.7,157.5 L238.4,156.2 L240.7,154.5 L243.5,152.4 L246.4,150.2 L249.3,148.0 L252.0,146.0 L254.4,144.1 L256.8,142.3 L259.2,140.4 L261.5,138.6 L263.8,136.8 L266.0,135.0 L268.3,133.2 L270.6,131.2 L272.9,129.3 L275.0,127.6 L276.7,126.1 L278.0,125.0" fill="none" stroke="#3f6b22" stroke-width="1.6" stroke-linecap="round" stroke-linejoin="round" />
<path d="M236.7,157.5 L236.6,159.2 L236.6,161.5 L236.5,164.3 L236.4,167.3 L236.2,170.3 L236.0,173.0 L235.7,175.6 L235.4,178.2 L235.1,180.8 L234.7,183.3 L234.3,185.7 L234.0,188.0 L233.6,190.2 L233.3,192.4 L232.9,194.4 L232.5,196.3 L232.2,197.8 L232.0,199.0" fill="none" stroke="#3f6b22" stroke-width="1.6" stroke-linecap="round" stroke-linejoin="round" />
<path d="M236.7,157.5 L237.7,159.0 L238.9,161.1 L240.5,163.6 L242.2,166.4 L244.1,169.2 L246.0,172.0 L248.0,174.8 L250.2,177.8 L252.6,180.9 L255.0,184.0 L257.5,187.1 L260.0,190.0 L262.7,193.0 L265.8,196.1 L268.9,199.1 L271.8,201.9 L274.2,204.3 L276.0,206.0" fill="none" stroke="#3f6b22" stroke-width="1.6" stroke-linecap="round" stroke-linejoin="round" />
<path d="M236.7,157.5 L239.4,158.7 L243.2,160.3 L247.6,162.2 L252.4,164.3 L257.3,166.3 L262.0,168.0 L266.5,169.5 L271.1,170.9 L275.8,172.2 L280.6,173.4 L285.3,174.7 L290.0,176.0 L294.7,177.3 L299.4,178.6 L304.1,180.0 L308.7,181.3 L313.4,182.6 L318.0,184.0 L322.9,185.5 L328.1,187.1 L333.2,188.8 L338.0,190.3 L342.1,191.6 L345.0,192.5" fill="none" stroke="#3f6b22" stroke-width="1.6" stroke-linecap="round" stroke-linejoin="round" />
<path d="M236.7,157.5 L235.8,157.0 L234.5,156.4 L232.9,155.6 L231.2,154.7 L229.6,153.8 L228.0,153.0 L226.5,152.2 L224.9,151.4 L223.4,150.6 L221.9,149.8 L220.4,148.9 L219.0,148.0 L217.6,147.0 L216.3,145.9 L214.9,144.7 L213.7,143.6 L212.7,142.7 L212.0,142.0" fill="none" stroke="#3f6b22" stroke-width="1.6" stroke-linecap="round" stroke-linejoin="round" />
<path d="M300.0,139.0 L302.2,138.1 L305.2,136.8 L308.8,135.3 L312.6,133.7 L316.4,132.3 L320.0,131.0 L323.3,130.0 L326.5,129.2 L329.7,128.4 L333.0,127.7 L336.4,126.9 L340.0,126.0 L344.2,124.9 L348.9,123.6 L353.8,122.2 L358.3,120.9 L362.2,119.8 L365.0,119.0" fill="none" stroke="#3f6b22" stroke-width="1.6" stroke-linecap="round" stroke-linejoin="round" />
<path d="M222.0,133.0 L214.0,124.0" fill="none" stroke="#3f6b22" stroke-width="1.3" stroke-linecap="round" stroke-linejoin="round" />
<path d="M229.0,145.0 L219.0,134.0" fill="none" stroke="#3f6b22" stroke-width="1.3" stroke-linecap="round" stroke-linejoin="round" />
<path d="M235.0,135.0 L228.0,124.0" fill="none" stroke="#3f6b22" stroke-width="1.3" stroke-linecap="round" stroke-linejoin="round" />
<path d="M246.0,137.0 L245.0,124.0" fill="none" stroke="#3f6b22" stroke-width="1.3" stroke-linecap="round" stroke-linejoin="round" />
<path d="M252.0,122.0 L250.0,112.0" fill="none" stroke="#3f6b22" stroke-width="1.3" stroke-linecap="round" stroke-linejoin="round" />
<path d="M262.0,138.0 L262.0,124.0" fill="none" stroke="#3f6b22" stroke-width="1.3" stroke-linecap="round" stroke-linejoin="round" />
<path d="M268.0,146.0 L280.0,136.0" fill="none" stroke="#3f6b22" stroke-width="1.3" stroke-linecap="round" stroke-linejoin="round" />
<path d="M236.0,178.0 L227.0,187.0" fill="none" stroke="#3f6b22" stroke-width="1.3" stroke-linecap="round" stroke-linejoin="round" />
<path d="M237.0,185.0 L246.0,196.0" fill="none" stroke="#3f6b22" stroke-width="1.3" stroke-linecap="round" stroke-linejoin="round" />
<path d="M250.0,172.0 L248.0,186.0" fill="none" stroke="#3f6b22" stroke-width="1.3" stroke-linecap="round" stroke-linejoin="round" />
<path d="M258.0,180.0 L268.0,194.0" fill="none" stroke="#3f6b22" stroke-width="1.3" stroke-linecap="round" stroke-linejoin="round" />
<path d="M274.0,172.0 L286.0,184.0" fill="none" stroke="#3f6b22" stroke-width="1.3" stroke-linecap="round" stroke-linejoin="round" />
<path d="M290.0,176.0 L300.0,188.0" fill="none" stroke="#3f6b22" stroke-width="1.3" stroke-linecap="round" stroke-linejoin="round" />
<path d="M318.0,184.0 L326.0,190.0" fill="none" stroke="#3f6b22" stroke-width="1.3" stroke-linecap="round" stroke-linejoin="round" />
<path d="M285.0,166.0 L297.0,163.0" fill="none" stroke="#3f6b22" stroke-width="1.3" stroke-linecap="round" stroke-linejoin="round" />
<path d="M262.0,163.0 L272.0,160.0" fill="none" stroke="#3f6b22" stroke-width="1.3" stroke-linecap="round" stroke-linejoin="round" />
<path d="M213.0,350.7 C213.8,350.5 219.8,355.1 223.0,356.7 C226.2,358.3 232.2,361.7 236.7,363.0 C241.2,364.3 251.4,365.8 256.7,366.7 C262.0,367.6 271.4,368.7 276.7,370.0 C282.0,371.3 291.9,374.3 296.7,376.7 C301.5,379.1 309.0,384.5 313.0,388.0 C317.0,391.5 323.8,398.7 326.7,403.0 C329.6,407.3 332.8,414.7 335.0,420.0 C337.2,425.3 341.0,437.3 343.0,443.0 C345.0,448.7 348.8,458.5 350.0,463.0 C351.2,467.5 352.0,473.4 351.7,476.7 C351.4,480.0 349.2,486.1 348.0,488.0 C346.8,489.9 345.0,491.1 343.0,490.7 C341.0,490.3 336.1,487.1 333.0,485.0 C329.9,482.9 322.7,476.8 320.0,475.0 C317.3,473.2 316.1,472.6 313.0,471.7 C309.9,470.8 301.5,469.3 296.7,468.0 C291.9,466.7 281.2,463.9 276.7,461.7 C272.2,459.5 266.2,455.5 263.0,451.7 C259.8,447.9 255.7,438.6 253.0,433.0 C250.3,427.4 245.0,415.3 243.0,410.0 C241.0,404.7 238.8,397.4 238.0,393.0 C237.2,388.6 237.8,380.0 236.7,376.7 C235.6,373.4 232.7,370.5 230.0,368.0 C227.3,365.5 219.0,360.3 216.7,358.0 C214.4,355.7 212.2,350.9 213.0,350.7 Z" fill="#6e0b10" />
<ellipse cx="251.7" cy="372.7" rx="4.6" ry="3.4" fill="#e2a678" transform="rotate(10 251.7 372.7)"/>
<ellipse cx="268.3" cy="375" rx="4" ry="3" fill="#e2a678" transform="rotate(10 268.3 375)"/>
</g><!--endplant-->

<!-- nucleus content -->
<g id="nuc" filter="url(#soft2)">
<text x="572.6" y="95.3" font-size="34.3" font-weight="bold" text-anchor="middle" fill="#111" stroke="#111" stroke-width="1.2" stroke-linejoin="round">SPWR1</text>
<text x="572.6" y="315.3" font-size="34.3" font-weight="bold" text-anchor="middle" fill="#111" stroke="#111" stroke-width="1.2" stroke-linejoin="round">SPWR2</text>
<text x="484.5" y="218.3" font-size="26" fill="#111" stroke="#111" stroke-width="0.5">W-box</text>
<text x="581.5" y="218.3" font-size="26" font-style="italic" fill="#111" stroke="#111" stroke-width="0.5">SPWR2</text>
<text x="568" y="414" font-size="33.5" font-weight="bold" text-anchor="middle" fill="#6b8f1f">Quinate</text>
<text x="568" y="447" font-size="33.5" font-weight="bold" text-anchor="middle" fill="#6b8f1f">biosynthesis</text>
<!-- black arrows -->
<g fill="#0a0a0a" stroke="none">
  <rect x="571" y="107" width="4.4" height="38"/>
  <path d="M560,140 L573.2,146 L586.4,140 L573.2,155.5 Z"/>
  <rect x="571" y="228.5" width="4.4" height="38"/>
  <path d="M560,261 L573.2,267 L586.4,261 L573.2,276.5 Z"/>
  <rect x="571" y="336" width="4.4" height="36"/>
  <path d="M560,367 L573.2,373 L586.4,367 L573.2,382.5 Z"/>
</g>
<!-- promoter -->
<g stroke="#cf1530" fill="none" stroke-width="3">
  <path d="M484,194.5 H671"/>
  <path d="M551.3,194.5 V172 H622" stroke-width="2.6"/>
</g>
<path d="M614,165 L639,172 L614,179 L620.5,172 Z" fill="#de1023"/>
<ellipse cx="521.5" cy="187.5" rx="14" ry="9.5" fill="url(#ovalg)"/>
</g>

<!-- red signal lines -->
<!--redlines in generator-->
<path d="M463.5,134 L506.5,144.3 L463.5,154.5 L473,144.3 Z" fill="#de1023"/>

<g id="bugs" filter="url(#soft)">
<clipPath id="glclip"><path d="M205.8,106.7 C206.2,106.1 210.6,111.1 211.7,111.7 C212.8,112.3 220.5,114.9 221.7,115.0 C222.9,115.1 228.9,113.9 230.0,113.3 C231.1,112.7 237.1,107.5 238.3,106.7 C239.5,105.9 247.0,102.3 248.3,101.7 C249.6,101.1 256.6,98.2 258.0,97.5 C259.4,96.8 268.6,91.2 270.0,90.5 C271.4,89.8 277.8,86.9 278.3,87.3 C278.8,87.7 277.6,95.4 277.3,96.7 C277.0,98.0 273.8,105.4 273.3,106.7 C272.8,108.0 270.3,115.5 270.0,116.7 C269.7,117.9 268.4,124.7 269.0,125.0 C269.6,125.3 276.8,122.3 278.3,121.7 C279.8,121.1 290.1,117.3 291.7,116.7 C293.3,116.1 300.3,113.5 301.7,113.0 C303.1,112.5 311.2,109.9 312.6,109.7 C314.0,109.5 320.3,110.4 322.0,110.5 C323.7,110.6 335.7,111.3 337.8,111.4 C339.9,111.5 352.7,111.7 354.0,112.0 C355.3,112.3 357.1,115.9 357.9,116.2 C358.7,116.5 364.6,116.5 365.4,116.4 C366.2,116.3 369.2,115.2 370.4,115.2 C371.6,115.2 382.8,115.9 383.0,116.4 C383.2,116.9 374.2,121.9 373.0,122.7 C371.8,123.5 366.5,128.2 365.4,129.0 C364.3,129.8 357.9,134.1 356.6,134.6 C355.3,135.1 346.4,135.9 345.3,136.2 C344.2,136.5 340.5,139.2 339.5,139.5 C338.5,139.8 331.1,140.8 330.0,141.0 C328.9,141.2 324.1,141.7 323.0,142.0 C321.9,142.3 315.2,145.0 314.0,146.0 C312.8,147.0 306.2,155.7 305.0,156.7 C303.8,157.7 296.1,160.4 296.0,161.0 C295.9,161.6 301.7,165.3 303.0,166.0 C304.3,166.7 313.3,171.1 315.0,172.0 C316.7,172.9 326.0,178.8 328.0,180.0 C330.0,181.2 343.1,189.0 345.0,190.0 C346.9,191.0 357.3,194.9 356.7,195.3 C356.1,195.7 339.8,196.6 336.7,196.7 C333.6,196.8 313.1,197.0 310.0,197.0 C306.9,197.0 292.0,196.7 290.0,196.7 C288.0,196.7 280.5,196.8 280.0,197.5 C279.5,198.2 282.3,205.3 283.0,206.7 C283.7,208.1 290.9,217.8 290.0,218.0 C289.1,218.2 272.0,209.9 270.0,209.5 C268.0,209.1 261.4,211.4 260.0,211.5 C258.6,211.6 250.0,211.6 248.5,211.5 C247.0,211.4 238.4,210.0 237.0,209.5 C235.6,209.0 228.0,204.5 227.0,203.5 C226.0,202.5 222.4,196.3 222.0,195.0 C221.6,193.7 220.6,185.3 221.0,184.0 C221.4,182.7 227.3,176.2 228.0,175.0 C228.7,173.8 231.6,167.8 231.7,166.7 C231.8,165.6 230.7,159.1 230.0,158.0 C229.3,156.9 222.9,151.4 221.7,150.5 C220.5,149.6 212.7,145.9 211.7,145.0 C210.7,144.1 207.1,138.4 206.7,136.7 C206.3,135.0 205.1,122.0 205.0,120.0 C204.9,118.0 205.4,107.3 205.8,106.7 Z"/></clipPath>
<g fill="none" stroke="#c4142e" stroke-linecap="round"><path d="M276.7,131.5 C277,137 281,141.5 290,143 C296,144 310,144.2 325,144.2 L470,144.2" stroke-width="3.2"/><path d="M248.5,314.0 L248.6,312.2 L248.7,309.8 L248.7,306.9 L248.9,303.7 L249.0,300.3 L249.1,296.8 L249.3,293.3 L249.5,290.0 L249.7,286.7 L249.9,283.3 L250.2,279.8 L250.5,276.3 L250.7,272.8 L251.0,269.4 L251.4,266.1 L251.7,263.0 L252.0,260.1 L252.4,257.3 L252.8,254.7 L253.1,252.1 L253.6,249.6 L254.0,247.1 L254.5,244.4 L255.0,241.7 L255.6,238.8 L256.1,235.9 L256.7,233.0 L257.3,230.0 L258.0,226.9 L258.8,223.9 L259.6,220.9 L260.5,218.0 L261.5,215.1 L262.6,212.1 L263.8,209.2 L265.0,206.3 L266.3,203.4 L267.7,200.5 L269.1,197.7 L270.5,195.0 L272.0,192.3 L273.5,189.6 L275.1,187.0 L276.8,184.4 L278.5,181.9 L280.2,179.5 L281.8,177.2 L283.5,175.0 L285.1,173.0 L286.6,171.1 L288.1,169.4 L289.7,167.7 L291.2,166.2 L292.9,164.6 L294.7,163.2 L296.7,161.7 L298.9,160.3 L301.2,158.9 L303.6,157.5 L306.2,156.2 L308.8,154.9 L311.4,153.8 L314.1,152.7 L316.7,151.7 L319.3,150.8 L322.0,150.0 L324.7,149.3 L327.4,148.7 L330.1,148.1 L332.9,147.6 L335.6,147.2 L338.3,146.7 L341.0,146.3 L343.8,145.9 L346.5,145.6 L349.2,145.4 L352.0,145.1 L354.7,144.9 L357.4,144.8 L360.0,144.6 L362.7,144.5 L365.6,144.4 L368.5,144.3 L371.4,144.3 L374.0,144.2 L376.4,144.2 L378.5,144.2 L380.0,144.2" stroke-width="2.1"/></g>
<g fill="none" stroke="#c43a18" stroke-linecap="round" clip-path="url(#glclip)"><path d="M276.7,131.5 C277,137 281,141.5 290,143 C296,144 310,144.2 325,144.2 L470,144.2" stroke-width="3.2"/><path d="M248.5,314.0 L248.6,312.2 L248.7,309.8 L248.7,306.9 L248.9,303.7 L249.0,300.3 L249.1,296.8 L249.3,293.3 L249.5,290.0 L249.7,286.7 L249.9,283.3 L250.2,279.8 L250.5,276.3 L250.7,272.8 L251.0,269.4 L251.4,266.1 L251.7,263.0 L252.0,260.1 L252.4,257.3 L252.8,254.7 L253.1,252.1 L253.6,249.6 L254.0,247.1 L254.5,244.4 L255.0,241.7 L255.6,238.8 L256.1,235.9 L256.7,233.0 L257.3,230.0 L258.0,226.9 L258.8,223.9 L259.6,220.9 L260.5,218.0 L261.5,215.1 L262.6,212.1 L263.8,209.2 L265.0,206.3 L266.3,203.4 L267.7,200.5 L269.1,197.7 L270.5,195.0 L272.0,192.3 L273.5,189.6 L275.1,187.0 L276.8,184.4 L278.5,181.9 L280.2,179.5 L281.8,177.2 L283.5,175.0 L285.1,173.0 L286.6,171.1 L288.1,169.4 L289.7,167.7 L291.2,166.2 L292.9,164.6 L294.7,163.2 L296.7,161.7 L298.9,160.3 L301.2,158.9 L303.6,157.5 L306.2,156.2 L308.8,154.9 L311.4,153.8 L314.1,152.7 L316.7,151.7 L319.3,150.8 L322.0,150.0 L324.7,149.3 L327.4,148.7 L330.1,148.1 L332.9,147.6 L335.6,147.2 L338.3,146.7 L341.0,146.3 L343.8,145.9 L346.5,145.6 L349.2,145.4 L352.0,145.1 L354.7,144.9 L357.4,144.8 L360.0,144.6 L362.7,144.5 L365.6,144.4 L368.5,144.3 L371.4,144.3 L374.0,144.2 L376.4,144.2 L378.5,144.2 L380.0,144.2" stroke-width="2.1"/></g>
<g transform="translate(262.5,91) rotate(102.6) scale(1.036,1.121)"><path d="M10,3 L-3,7.5 L-9,10 L-20,14.5" fill="none" stroke="#474747" stroke-width="0.9" stroke-linecap="round" stroke-linejoin="round"/><path d="M10,-3 L-3,-7.5 L-9,-10.5 L-21,-15.5" fill="none" stroke="#474747" stroke-width="0.9" stroke-linecap="round" stroke-linejoin="round"/><path d="M14,2 L11,10 L7,14 L2,18" fill="none" stroke="#474747" stroke-width="0.9" stroke-linecap="round" stroke-linejoin="round"/><path d="M14,-2 L10,-9 L6,-13.5 L0,-18.5" fill="none" stroke="#474747" stroke-width="0.9" stroke-linecap="round" stroke-linejoin="round"/><path d="M19,2.5 L23,10.5 L32,13" fill="none" stroke="#474747" stroke-width="0.9" stroke-linecap="round" stroke-linejoin="round"/><path d="M19,-2.5 L22.5,-10 L31,-14" fill="none" stroke="#474747" stroke-width="0.9" stroke-linecap="round" stroke-linejoin="round"/><path d="M-14.5,0 C-14.5,-4.6 -9,-6 -3,-5.8 C4,-5.5 10,-3.6 14.5,-2 L14.5,2 C10,3.6 4,5.5 -3,5.8 C-9,6 -14.5,4.6 -14.5,0 Z" fill="#080808"/><path d="M22,-2.1 L33,-1.6 C35.5,-1.2 36,1 33,1.5 L22,2.2 Z" fill="#080808"/><ellipse cx="19.5" cy="0" rx="4.8" ry="3.1" fill="#e01426"/><circle cx="21.5" cy="0" r="1.1" fill="#ffd0d0"/></g>
<g transform="translate(332,106.4) rotate(150.2) scale(1.071,0.905)"><path d="M10,3 L-3,7.5 L-9,10 L-20,14.5" fill="none" stroke="#474747" stroke-width="0.9" stroke-linecap="round" stroke-linejoin="round"/><path d="M10,-3 L-3,-7.5 L-9,-10.5 L-21,-15.5" fill="none" stroke="#474747" stroke-width="0.9" stroke-linecap="round" stroke-linejoin="round"/><path d="M14,2 L11,10 L7,14 L2,18" fill="none" stroke="#474747" stroke-width="0.9" stroke-linecap="round" stroke-linejoin="round"/><path d="M14,-2 L10,-9 L6,-13.5 L0,-18.5" fill="none" stroke="#474747" stroke-width="0.9" stroke-linecap="round" stroke-linejoin="round"/><path d="M19,2.5 L23,10.5 L32,13" fill="none" stroke="#474747" stroke-width="0.9" stroke-linecap="round" stroke-linejoin="round"/><path d="M19,-2.5 L22.5,-10 L31,-14" fill="none" stroke="#474747" stroke-width="0.9" stroke-linecap="round" stroke-linejoin="round"/><path d="M-14.5,0 C-14.5,-4.6 -9,-6 -3,-5.8 C4,-5.5 10,-3.6 14.5,-2 L14.5,2 C10,3.6 4,5.5 -3,5.8 C-9,6 -14.5,4.6 -14.5,0 Z" fill="#080808"/><path d="M22,-2.1 L33,-1.6 C35.5,-1.2 36,1 33,1.5 L22,2.2 Z" fill="#080808"/><ellipse cx="19.5" cy="0" rx="4.8" ry="3.1" fill="#e01426"/><circle cx="21.5" cy="0" r="1.1" fill="#ffd0d0"/></g>
<g transform="translate(301,194) rotate(14.5) scale(0.964,1.034)"><path d="M10,3 L-3,7.5 L-9,10 L-20,14.5" fill="none" stroke="#474747" stroke-width="0.9" stroke-linecap="round" stroke-linejoin="round"/><path d="M10,-3 L-3,-7.5 L-9,-10.5 L-21,-15.5" fill="none" stroke="#474747" stroke-width="0.9" stroke-linecap="round" stroke-linejoin="round"/><path d="M14,2 L11,10 L7,14 L2,18" fill="none" stroke="#474747" stroke-width="0.9" stroke-linecap="round" stroke-linejoin="round"/><path d="M14,-2 L10,-9 L6,-13.5 L0,-18.5" fill="none" stroke="#474747" stroke-width="0.9" stroke-linecap="round" stroke-linejoin="round"/><path d="M19,2.5 L23,10.5 L32,13" fill="none" stroke="#474747" stroke-width="0.9" stroke-linecap="round" stroke-linejoin="round"/><path d="M19,-2.5 L22.5,-10 L31,-14" fill="none" stroke="#474747" stroke-width="0.9" stroke-linecap="round" stroke-linejoin="round"/><path d="M-14.5,0 C-14.5,-4.6 -9,-6 -3,-5.8 C4,-5.5 10,-3.6 14.5,-2 L14.5,2 C10,3.6 4,5.5 -3,5.8 C-9,6 -14.5,4.6 -14.5,0 Z" fill="#080808"/><path d="M22,-2.1 L33,-1.6 C35.5,-1.2 36,1 33,1.5 L22,2.2 Z" fill="#080808"/><ellipse cx="19.5" cy="0" rx="4.8" ry="3.1" fill="#e01426"/><circle cx="21.5" cy="0" r="1.1" fill="#ffd0d0"/></g>
<g transform="translate(224.2,334.6) rotate(50.9) scale(1.036,0.819)"><path d="M10,3 L-3,7.5 L-9,10 L-20,14.5" fill="none" stroke="#474747" stroke-width="0.9" stroke-linecap="round" stroke-linejoin="round"/><path d="M10,-3 L-3,-7.5 L-9,-10.5 L-21,-15.5" fill="none" stroke="#474747" stroke-width="0.9" stroke-linecap="round" stroke-linejoin="round"/><path d="M14,2 L11,10 L7,14 L2,18" fill="none" stroke="#474747" stroke-width="0.9" stroke-linecap="round" stroke-linejoin="round"/><path d="M14,-2 L10,-9 L6,-13.5 L0,-18.5" fill="none" stroke="#474747" stroke-width="0.9" stroke-linecap="round" stroke-linejoin="round"/><path d="M19,2.5 L23,10.5 L32,13" fill="none" stroke="#474747" stroke-width="0.9" stroke-linecap="round" stroke-linejoin="round"/><path d="M19,-2.5 L22.5,-10 L31,-14" fill="none" stroke="#474747" stroke-width="0.9" stroke-linecap="round" stroke-linejoin="round"/><path d="M-14.5,0 C-14.5,-4.6 -9,-6 -3,-5.8 C4,-5.5 10,-3.6 14.5,-2 L14.5,2 C10,3.6 4,5.5 -3,5.8 C-9,6 -14.5,4.6 -14.5,0 Z" fill="#080808"/><path d="M22,-2.1 L33,-1.6 C35.5,-1.2 36,1 33,1.5 L22,2.2 Z" fill="#080808"/><ellipse cx="19.5" cy="0" rx="4.8" ry="3.1" fill="#e01426"/><circle cx="21.5" cy="0" r="1.1" fill="#ffd0d0"/></g>
<g transform="translate(282.3,337) rotate(115) scale(0.964,0.862)"><path d="M10,3 L-3,7.5 L-9,10 L-20,14.5" fill="none" stroke="#474747" stroke-width="0.9" stroke-linecap="round" stroke-linejoin="round"/><path d="M10,-3 L-3,-7.5 L-9,-10.5 L-21,-15.5" fill="none" stroke="#474747" stroke-width="0.9" stroke-linecap="round" stroke-linejoin="round"/><path d="M14,2 L11,10 L7,14 L2,18" fill="none" stroke="#474747" stroke-width="0.9" stroke-linecap="round" stroke-linejoin="round"/><path d="M14,-2 L10,-9 L6,-13.5 L0,-18.5" fill="none" stroke="#474747" stroke-width="0.9" stroke-linecap="round" stroke-linejoin="round"/><path d="M19,2.5 L23,10.5 L32,13" fill="none" stroke="#474747" stroke-width="0.9" stroke-linecap="round" stroke-linejoin="round"/><path d="M19,-2.5 L22.5,-10 L31,-14" fill="none" stroke="#474747" stroke-width="0.9" stroke-linecap="round" stroke-linejoin="round"/><path d="M-14.5,0 C-14.5,-4.6 -9,-6 -3,-5.8 C4,-5.5 10,-3.6 14.5,-2 L14.5,2 C10,3.6 4,5.5 -3,5.8 C-9,6 -14.5,4.6 -14.5,0 Z" fill="#080808"/><path d="M22,-2.1 L33,-1.6 C35.5,-1.2 36,1 33,1.5 L22,2.2 Z" fill="#080808"/><ellipse cx="19.5" cy="0" rx="4.8" ry="3.1" fill="#e01426"/><circle cx="21.5" cy="0" r="1.1" fill="#ffd0d0"/></g>
<g transform="translate(361,440.3) rotate(10) scale(0.911,0.819)"><path d="M10,3 L-3,7.5 L-9,10 L-20,14.5" fill="none" stroke="#474747" stroke-width="0.9" stroke-linecap="round" stroke-linejoin="round"/><path d="M10,-3 L-3,-7.5 L-9,-10.5 L-21,-15.5" fill="none" stroke="#474747" stroke-width="0.9" stroke-linecap="round" stroke-linejoin="round"/><path d="M14,2 L11,10 L7,14 L2,18" fill="none" stroke="#474747" stroke-width="0.9" stroke-linecap="round" stroke-linejoin="round"/><path d="M14,-2 L10,-9 L6,-13.5 L0,-18.5" fill="none" stroke="#474747" stroke-width="0.9" stroke-linecap="round" stroke-linejoin="round"/><path d="M19,2.5 L23,10.5 L32,13" fill="none" stroke="#474747" stroke-width="0.9" stroke-linecap="round" stroke-linejoin="round"/><path d="M19,-2.5 L22.5,-10 L31,-14" fill="none" stroke="#474747" stroke-width="0.9" stroke-linecap="round" stroke-linejoin="round"/><path d="M-14.5,0 C-14.5,-4.6 -9,-6 -3,-5.8 C4,-5.5 10,-3.6 14.5,-2 L14.5,2 C10,3.6 4,5.5 -3,5.8 C-9,6 -14.5,4.6 -14.5,0 Z" fill="#080808"/><path d="M22,-2.1 L33,-1.6 C35.5,-1.2 36,1 33,1.5 L22,2.2 Z" fill="#080808"/><ellipse cx="19.5" cy="0" rx="4.8" ry="3.1" fill="#e01426"/><circle cx="21.5" cy="0" r="1.1" fill="#ffd0d0"/></g>
</g><!--endbugs-->

<!-- green inhibition lines -->
<g fill="none" stroke="#6b8f1f" stroke-width="4.6">
  <path d="M303,237.5 L472,386"/>
  <path d="M291.5,247 L314.5,225.5"/>
  <path d="M407.7,423 V456" stroke-width="5.2"/>
  <path d="M407.7,439 H460" stroke-width="5.4"/>
</g>
</svg>
</body></html>
